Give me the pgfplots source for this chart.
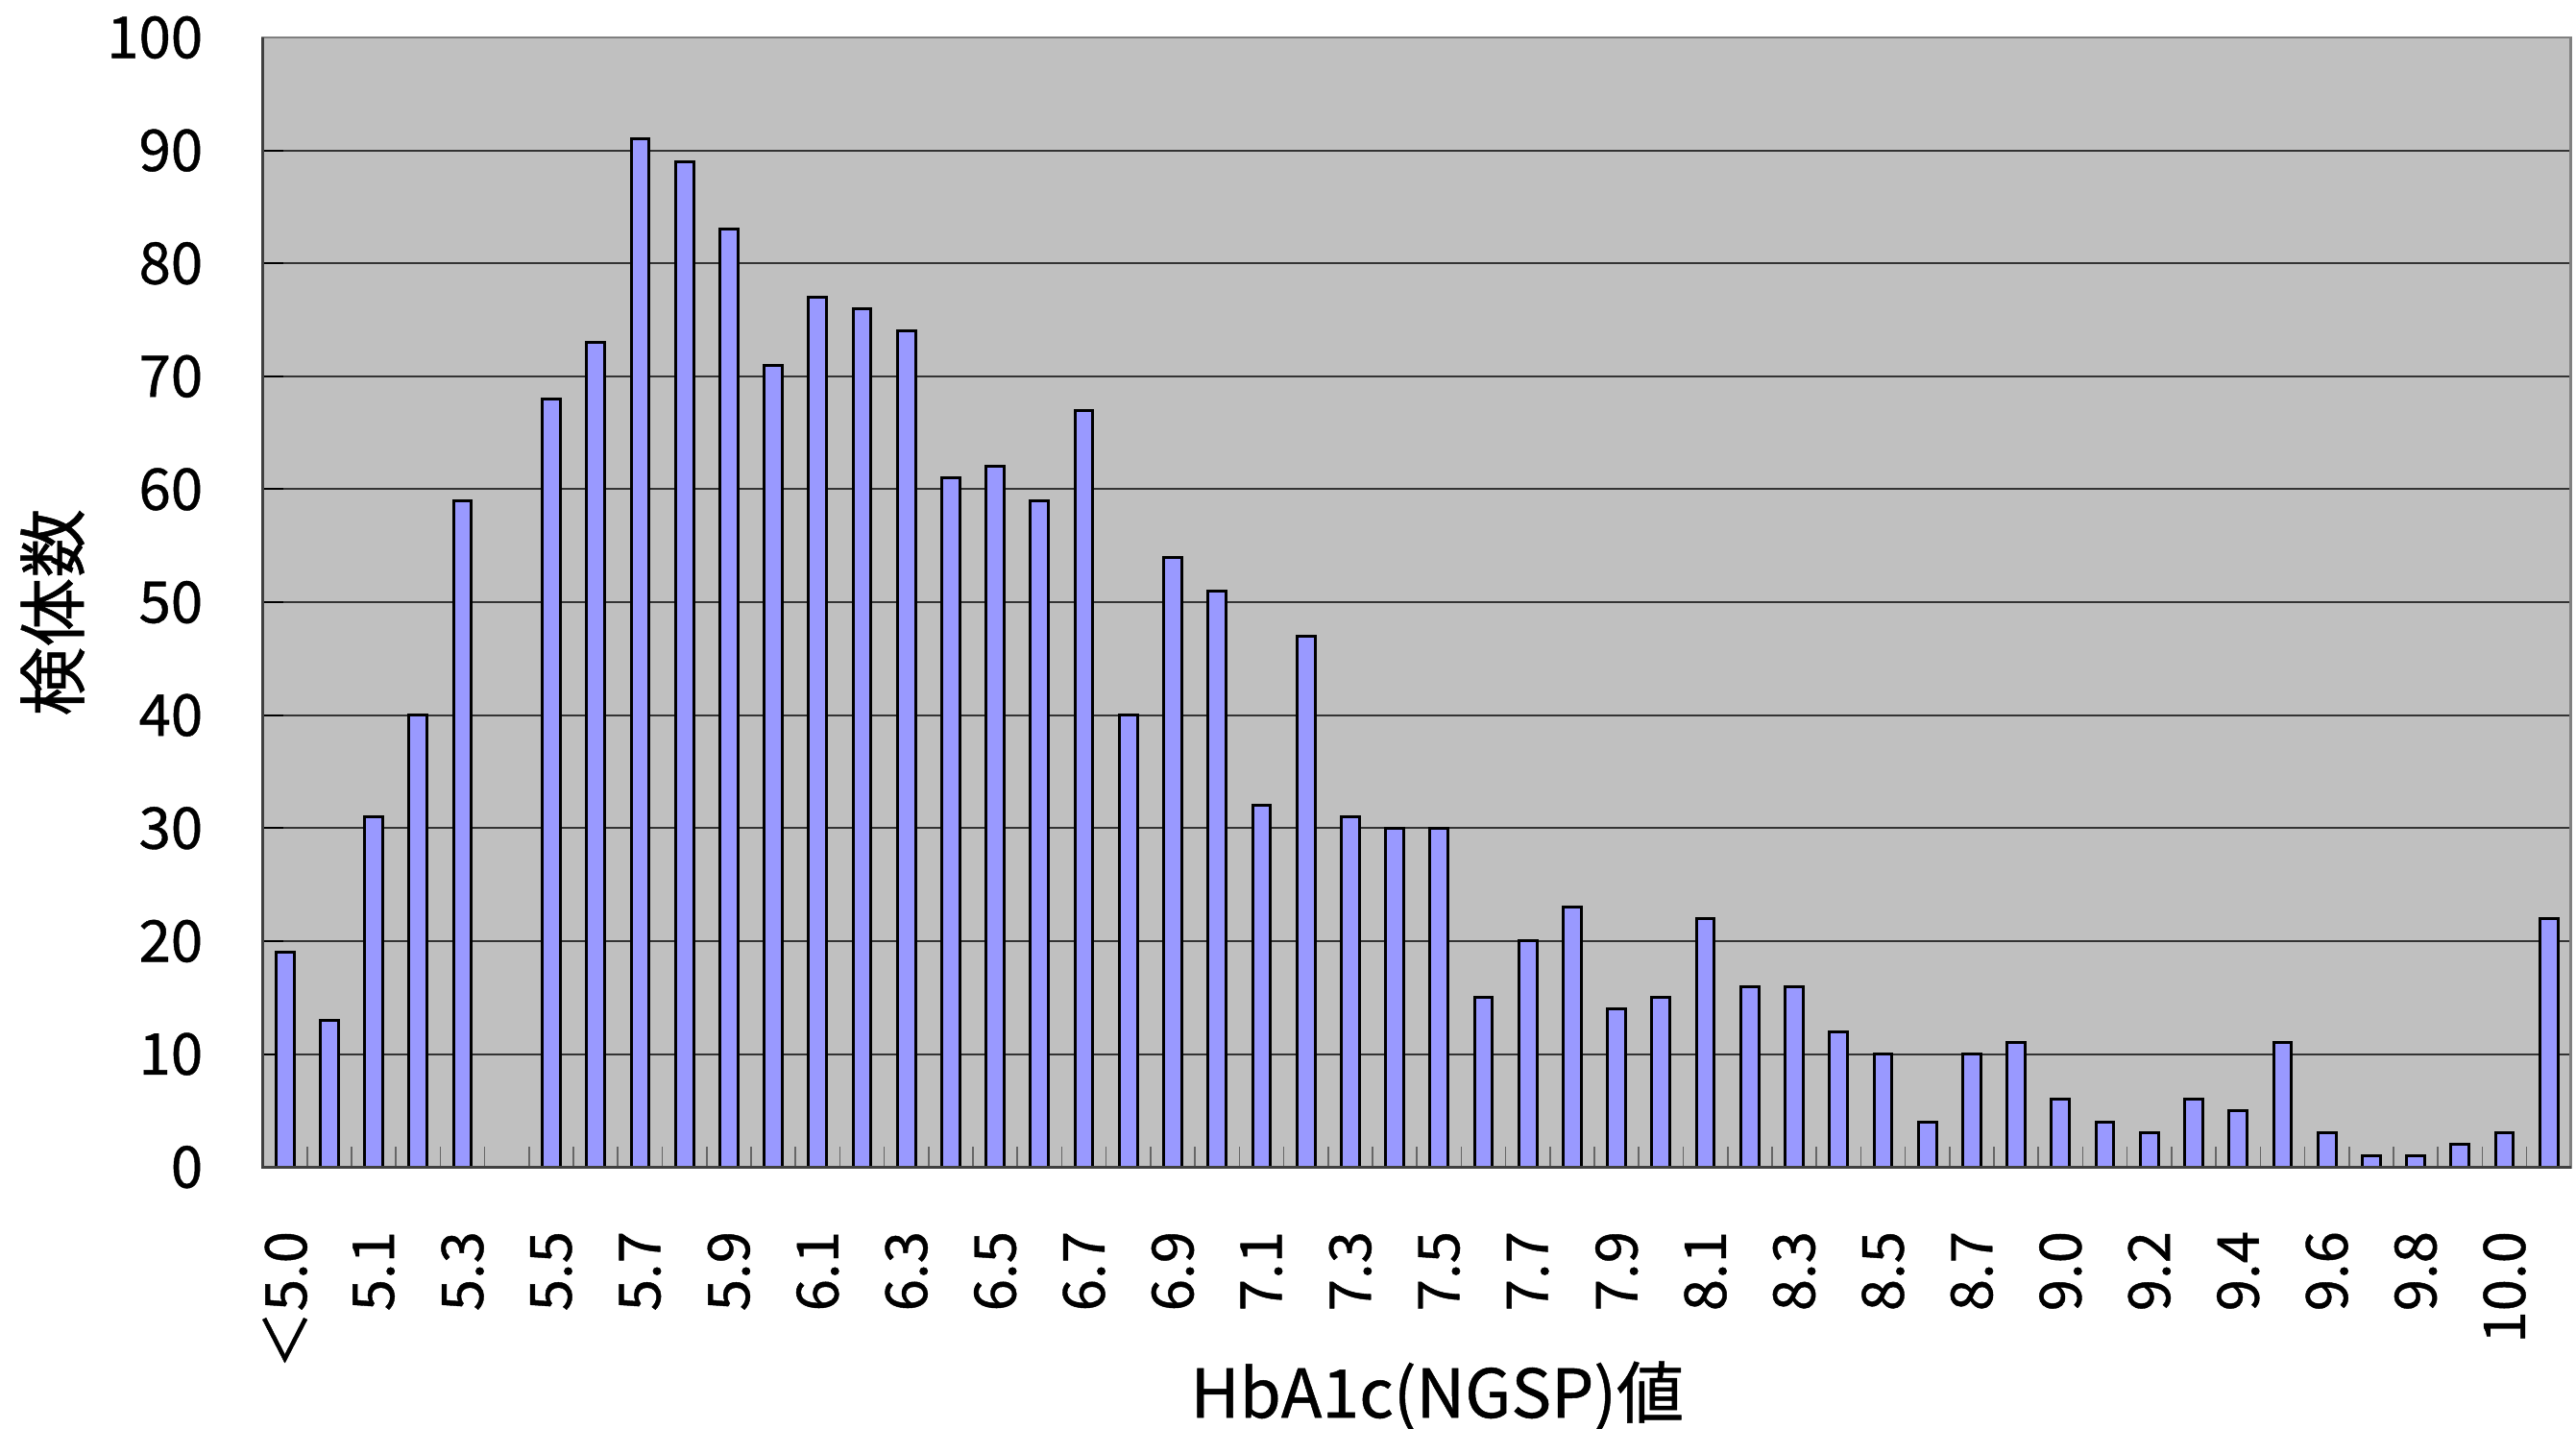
\documentclass[border=0pt]{standalone}
\usepackage{fontspec}
\setmainfont{Noto Sans CJK JP}[FakeBold=0.7]
\usepackage{pgfplots}
\pgfplotsset{compat=1.18}
\definecolor{plotbg}{HTML}{C0C0C0}
\definecolor{barfill}{HTML}{9999FF}
\definecolor{frame}{HTML}{808080}

\begin{document}
\begin{tikzpicture}
\path[use as bounding box] (-68.4pt,-68.1pt) rectangle (602.2pt,303.85pt);
\begin{axis}[
    at={(0,0)}, anchor=south west,
    scale only axis, width=600.9pt, height=294.1pt,
    ybar, bar width=4.7pt,
    xmin=-0.5, xmax=51.5, ymin=0, ymax=100,
    axis background/.style={fill=plotbg},
    axis line style={draw=frame, line width=0.7pt},
    tick align=inside, xtick pos=bottom, ytick pos=left,
    ytick={0,10,...,100},
    ymajorgrids, major grid style={black!80, line width=0.5pt},
    xtick={0,2,...,50},
    xticklabels={{＜5.0\hspace{-6.4pt}},5.1,5.3,5.5,5.7,5.9,6.1,6.3,6.5,6.7,6.9,7.1,7.3,7.5,7.7,7.9,8.1,8.3,8.5,8.7,9.0,9.2,9.4,9.6,9.8,10.0},
    minor xtick={-0.5,0.5,...,51.5},
    major x tick style={draw=none},
    minor x tick style={black!60, line width=0.4pt},
    minor tick length=5.25pt,
    major y tick style={black, line width=0.5pt},
    major tick length=5.25pt,
    /pgf/number format/assume math mode=true,
    yticklabel style={font=\fontsize{15}{15}\selectfont, anchor=east, inner sep=0pt, xshift=-15.4pt},
    xticklabel style={font=\fontsize{15}{15}\selectfont, rotate=90, anchor=east, inner sep=0pt},
    xticklabel shift=16.5pt,
    xlabel={HbA1c(NGSP)値},
    ylabel={検体数},
    xlabel style={font=\fontsize{17.5}{17.5}\selectfont, at={(axis description cs:0.5088,-0.2027)}, anchor=center},
    ylabel style={font=\fontsize{18}{18}\selectfont, at={(axis description cs:-0.0911,0.491)}, anchor=center},
    after end axis/.code={
        \draw[black!75, line width=0.7pt] (rel axis cs:0,1) -- (rel axis cs:0,0) -- (rel axis cs:1,0);
    },
]
\addplot[fill=barfill, draw=black, line width=0.75pt] coordinates {
    (0,19) (1,13) (2,31) (3,40) (4,59) (5,0) (6,68) (7,73) (8,91) (9,89)
    (10,83) (11,71) (12,77) (13,76) (14,74) (15,61) (16,62) (17,59) (18,67) (19,40)
    (20,54) (21,51) (22,32) (23,47) (24,31) (25,30) (26,30) (27,15) (28,20) (29,23)
    (30,14) (31,15) (32,22) (33,16) (34,16) (35,12) (36,10) (37,4) (38,10) (39,11)
    (40,6) (41,4) (42,3) (43,6) (44,5) (45,11) (46,3) (47,1) (48,1) (49,2)
    (50,3) (51,22)
};
\end{axis}
\end{tikzpicture}
\end{document}
